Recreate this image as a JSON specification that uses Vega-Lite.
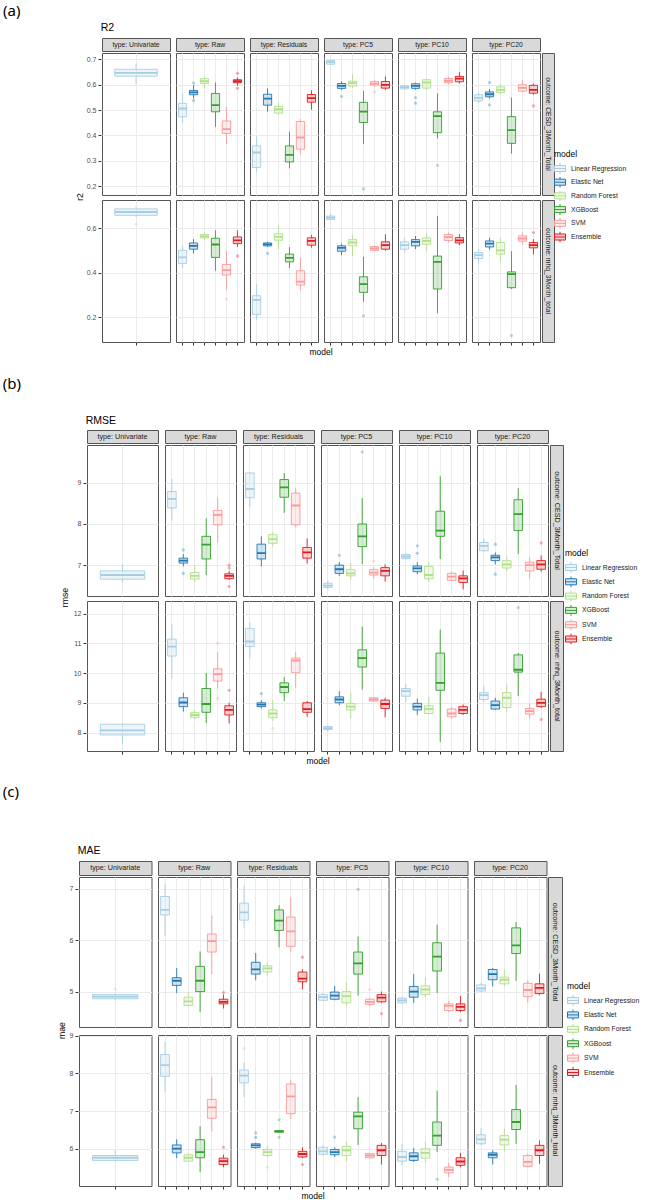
{
  "$schema": "https://vega.github.io/schema/vega-lite/v6.json",
  "background": "white",
  "padding": {"left": 2, "top": 4, "right": 0, "bottom": 0},
  "datasets": {
    "strips": [
      {"t": "U", "lab": "type: Univariate"}, {"t": "Raw", "lab": "type: Raw"}, {"t": "Res", "lab": "type: Residuals"},
      {"t": "PC5", "lab": "type: PC5"}, {"t": "PC10", "lab": "type: PC10"}, {"t": "PC20", "lab": "type: PC20"}
    ],
    "a1": [
      {"t":"U","m":"LR","lo":0.6,"q1":0.633,"md":0.646,"q3":0.66,"hi":0.683},
      {"t":"Raw","m":"LR","lo":0.448,"q1":0.473,"md":0.506,"q3":0.526,"hi":0.566},
      {"t":"Raw","m":"EN","lo":0.545,"q1":0.56,"md":0.569,"q3":0.577,"hi":0.598},
      {"t":"Raw","m":"RF","lo":0.585,"q1":0.604,"md":0.613,"q3":0.623,"hi":0.632},
      {"t":"Raw","m":"XGB","lo":0.434,"q1":0.493,"md":0.519,"q3":0.565,"hi":0.608},
      {"t":"Raw","m":"SVM","lo":0.366,"q1":0.408,"md":0.425,"q3":0.457,"hi":0.513},
      {"t":"Raw","m":"Ens","lo":0.595,"q1":0.607,"md":0.613,"q3":0.619,"hi":0.628},
      {"t":"Res","m":"LR","lo":0.255,"q1":0.274,"md":0.333,"q3":0.359,"hi":0.396},
      {"t":"Res","m":"EN","lo":0.494,"q1":0.519,"md":0.545,"q3":0.562,"hi":0.585},
      {"t":"Res","m":"RF","lo":0.48,"q1":0.488,"md":0.503,"q3":0.514,"hi":0.53},
      {"t":"Res","m":"XGB","lo":0.271,"q1":0.296,"md":0.324,"q3":0.359,"hi":0.415},
      {"t":"Res","m":"SVM","lo":0.326,"q1":0.346,"md":0.392,"q3":0.455,"hi":0.464},
      {"t":"Res","m":"Ens","lo":0.501,"q1":0.531,"md":0.547,"q3":0.561,"hi":0.577},
      {"t":"PC5","m":"LR","lo":0.677,"q1":0.68,"md":0.688,"q3":0.695,"hi":0.697},
      {"t":"PC5","m":"EN","lo":0.579,"q1":0.585,"md":0.595,"q3":0.604,"hi":0.613},
      {"t":"PC5","m":"RF","lo":0.587,"q1":0.594,"md":0.606,"q3":0.613,"hi":0.64},
      {"t":"PC5","m":"XGB","lo":0.366,"q1":0.451,"md":0.494,"q3":0.53,"hi":0.575},
      {"t":"PC5","m":"SVM","lo":0.592,"q1":0.598,"md":0.604,"q3":0.612,"hi":0.619},
      {"t":"PC5","m":"Ens","lo":0.579,"q1":0.586,"md":0.599,"q3":0.612,"hi":0.632},
      {"t":"PC10","m":"LR","lo":0.58,"q1":0.583,"md":0.59,"q3":0.595,"hi":0.598},
      {"t":"PC10","m":"EN","lo":0.58,"q1":0.585,"md":0.595,"q3":0.603,"hi":0.608},
      {"t":"PC10","m":"RF","lo":0.579,"q1":0.586,"md":0.608,"q3":0.619,"hi":0.624},
      {"t":"PC10","m":"XGB","lo":0.388,"q1":0.411,"md":0.476,"q3":0.493,"hi":0.566},
      {"t":"PC10","m":"SVM","lo":0.6,"q1":0.607,"md":0.615,"q3":0.624,"hi":0.63},
      {"t":"PC10","m":"Ens","lo":0.604,"q1":0.611,"md":0.623,"q3":0.632,"hi":0.65},
      {"t":"PC20","m":"LR","lo":0.527,"q1":0.536,"md":0.548,"q3":0.56,"hi":0.569},
      {"t":"PC20","m":"EN","lo":0.545,"q1":0.552,"md":0.562,"q3":0.571,"hi":0.582},
      {"t":"PC20","m":"RF","lo":0.562,"q1":0.569,"md":0.579,"q3":0.591,"hi":0.604},
      {"t":"PC20","m":"XGB","lo":0.329,"q1":0.369,"md":0.421,"q3":0.474,"hi":0.549},
      {"t":"PC20","m":"SVM","lo":0.569,"q1":0.574,"md":0.587,"q3":0.599,"hi":0.617},
      {"t":"PC20","m":"Ens","lo":0.56,"q1":0.566,"md":0.579,"q3":0.597,"hi":0.604},
      {"t":"Raw","m":"EN","v":0.606},{"t":"Raw","m":"EN","v":0.537},{"t":"Raw","m":"Ens","v":0.644},{"t":"Raw","m":"Ens","v":0.585},
      {"t":"PC5","m":"EN","v":0.553},{"t":"PC5","m":"XGB","v":0.19},{"t":"PC5","m":"SVM","v":0.571},
      {"t":"PC10","m":"EN","v":0.549},{"t":"PC10","m":"EN","v":0.527},{"t":"PC10","m":"XGB","v":0.283},
      {"t":"PC20","m":"EN","v":0.608},{"t":"PC20","m":"EN","v":0.52},{"t":"PC20","m":"Ens","v":0.516}
    ],
    "a2": [
      {"t":"U","m":"LR","lo":0.65,"q1":0.658,"md":0.673,"q3":0.687,"hi":0.698},
      {"t":"Raw","m":"LR","lo":0.422,"q1":0.442,"md":0.469,"q3":0.501,"hi":0.524},
      {"t":"Raw","m":"EN","lo":0.487,"q1":0.506,"md":0.521,"q3":0.534,"hi":0.551},
      {"t":"Raw","m":"RF","lo":0.549,"q1":0.557,"md":0.564,"q3":0.572,"hi":0.58},
      {"t":"Raw","m":"XGB","lo":0.409,"q1":0.469,"md":0.527,"q3":0.555,"hi":0.591},
      {"t":"Raw","m":"SVM","lo":0.322,"q1":0.39,"md":0.412,"q3":0.437,"hi":0.501},
      {"t":"Raw","m":"Ens","lo":0.516,"q1":0.531,"md":0.546,"q3":0.561,"hi":0.591},
      {"t":"Res","m":"LR","lo":0.188,"q1":0.213,"md":0.278,"q3":0.297,"hi":0.348},
      {"t":"Res","m":"EN","lo":0.516,"q1":0.521,"md":0.528,"q3":0.534,"hi":0.539},
      {"t":"Res","m":"RF","lo":0.506,"q1":0.546,"md":0.561,"q3":0.575,"hi":0.613},
      {"t":"Res","m":"XGB","lo":0.422,"q1":0.449,"md":0.467,"q3":0.484,"hi":0.515},
      {"t":"Res","m":"SVM","lo":0.322,"q1":0.345,"md":0.36,"q3":0.409,"hi":0.467},
      {"t":"Res","m":"Ens","lo":0.513,"q1":0.524,"md":0.543,"q3":0.557,"hi":0.57},
      {"t":"PC5","m":"LR","lo":0.636,"q1":0.64,"md":0.648,"q3":0.655,"hi":0.666},
      {"t":"PC5","m":"EN","lo":0.479,"q1":0.497,"md":0.512,"q3":0.521,"hi":0.531},
      {"t":"PC5","m":"RF","lo":0.475,"q1":0.521,"md":0.536,"q3":0.549,"hi":0.573},
      {"t":"PC5","m":"XGB","lo":0.27,"q1":0.312,"md":0.349,"q3":0.382,"hi":0.472},
      {"t":"PC5","m":"SVM","lo":0.497,"q1":0.501,"md":0.509,"q3":0.518,"hi":0.522},
      {"t":"PC5","m":"Ens","lo":0.499,"q1":0.506,"md":0.524,"q3":0.539,"hi":0.573},
      {"t":"PC10","m":"LR","lo":0.491,"q1":0.506,"md":0.524,"q3":0.539,"hi":0.557},
      {"t":"PC10","m":"EN","lo":0.506,"q1":0.521,"md":0.539,"q3":0.549,"hi":0.566},
      {"t":"PC10","m":"RF","lo":0.497,"q1":0.528,"md":0.543,"q3":0.557,"hi":0.579},
      {"t":"PC10","m":"XGB","lo":0.218,"q1":0.327,"md":0.449,"q3":0.475,"hi":0.655},
      {"t":"PC10","m":"SVM","lo":0.536,"q1":0.545,"md":0.56,"q3":0.572,"hi":0.581},
      {"t":"PC10","m":"Ens","lo":0.524,"q1":0.534,"md":0.546,"q3":0.558,"hi":0.573},
      {"t":"PC20","m":"LR","lo":0.442,"q1":0.464,"md":0.479,"q3":0.491,"hi":0.506},
      {"t":"PC20","m":"EN","lo":0.504,"q1":0.516,"md":0.531,"q3":0.543,"hi":0.557},
      {"t":"PC20","m":"RF","lo":0.449,"q1":0.484,"md":0.501,"q3":0.536,"hi":0.557},
      {"t":"PC20","m":"XGB","lo":0.327,"q1":0.333,"md":0.394,"q3":0.404,"hi":0.497},
      {"t":"PC20","m":"SVM","lo":0.527,"q1":0.542,"md":0.554,"q3":0.566,"hi":0.581},
      {"t":"PC20","m":"Ens","lo":0.482,"q1":0.512,"md":0.524,"q3":0.536,"hi":0.551},
      {"t":"U","m":"LR","v":0.618},{"t":"Raw","m":"SVM","v":0.282},{"t":"Raw","m":"Ens","v":0.475},
      {"t":"Res","m":"EN","v":0.487},{"t":"PC5","m":"XGB","v":0.207},{"t":"PC20","m":"XGB","v":0.118},{"t":"PC20","m":"Ens","v":0.581}
    ],
    "b1": [
      {"t":"U","m":"LR","lo":6.58,"q1":6.66,"md":6.76,"q3":6.86,"hi":7.02},
      {"t":"Raw","m":"LR","lo":8.08,"q1":8.39,"md":8.61,"q3":8.79,"hi":9.1},
      {"t":"Raw","m":"EN","lo":6.97,"q1":7.05,"md":7.11,"q3":7.17,"hi":7.27},
      {"t":"Raw","m":"RF","lo":6.58,"q1":6.66,"md":6.74,"q3":6.82,"hi":7.0},
      {"t":"Raw","m":"XGB","lo":6.76,"q1":7.15,"md":7.5,"q3":7.7,"hi":8.14},
      {"t":"Raw","m":"SVM","lo":7.55,"q1":7.98,"md":8.22,"q3":8.33,"hi":8.63},
      {"t":"Raw","m":"Ens","lo":6.64,"q1":6.67,"md":6.74,"q3":6.79,"hi":6.86},
      {"t":"Res","m":"LR","lo":8.41,"q1":8.64,"md":8.85,"q3":9.24,"hi":9.26},
      {"t":"Res","m":"EN","lo":6.97,"q1":7.15,"md":7.29,"q3":7.51,"hi":7.7},
      {"t":"Res","m":"RF","lo":7.45,"q1":7.53,"md":7.63,"q3":7.74,"hi":7.8},
      {"t":"Res","m":"XGB","lo":8.27,"q1":8.65,"md":8.89,"q3":9.08,"hi":9.24},
      {"t":"Res","m":"SVM","lo":7.92,"q1":7.98,"md":8.45,"q3":8.75,"hi":8.87},
      {"t":"Res","m":"Ens","lo":7.04,"q1":7.17,"md":7.31,"q3":7.43,"hi":7.65},
      {"t":"PC5","m":"LR","lo":6.42,"q1":6.46,"md":6.5,"q3":6.56,"hi":6.62},
      {"t":"PC5","m":"EN","lo":6.74,"q1":6.8,"md":6.9,"q3":7.0,"hi":7.07},
      {"t":"PC5","m":"RF","lo":6.66,"q1":6.74,"md":6.8,"q3":6.89,"hi":7.05},
      {"t":"PC5","m":"XGB","lo":7.02,"q1":7.45,"md":7.7,"q3":8.0,"hi":8.63},
      {"t":"PC5","m":"SVM","lo":6.67,"q1":6.76,"md":6.82,"q3":6.89,"hi":6.95},
      {"t":"PC5","m":"Ens","lo":6.6,"q1":6.74,"md":6.86,"q3":6.94,"hi":7.02},
      {"t":"PC10","m":"LR","lo":7.14,"q1":7.16,"md":7.21,"q3":7.26,"hi":7.28},
      {"t":"PC10","m":"EN","lo":6.78,"q1":6.84,"md":6.92,"q3":6.98,"hi":7.07},
      {"t":"PC10","m":"RF","lo":6.59,"q1":6.67,"md":6.76,"q3":6.97,"hi":7.07},
      {"t":"PC10","m":"XGB","lo":7.15,"q1":7.7,"md":7.84,"q3":8.31,"hi":9.16},
      {"t":"PC10","m":"SVM","lo":6.6,"q1":6.63,"md":6.72,"q3":6.8,"hi":6.85},
      {"t":"PC10","m":"Ens","lo":6.41,"q1":6.58,"md":6.68,"q3":6.74,"hi":6.87},
      {"t":"PC20","m":"LR","lo":7.31,"q1":7.35,"md":7.47,"q3":7.55,"hi":7.65},
      {"t":"PC20","m":"EN","lo":7.02,"q1":7.11,"md":7.19,"q3":7.24,"hi":7.31},
      {"t":"PC20","m":"RF","lo":6.86,"q1":6.93,"md":7.02,"q3":7.11,"hi":7.21},
      {"t":"PC20","m":"XGB","lo":7.27,"q1":7.84,"md":8.24,"q3":8.59,"hi":8.87},
      {"t":"PC20","m":"SVM","lo":6.68,"q1":6.86,"md":7.0,"q3":7.07,"hi":7.19},
      {"t":"PC20","m":"Ens","lo":6.84,"q1":6.9,"md":7.02,"q3":7.11,"hi":7.24},
      {"t":"Raw","m":"EN","v":7.37},{"t":"Raw","m":"EN","v":6.8},{"t":"Raw","m":"Ens","v":7.0},{"t":"Raw","m":"Ens","v":6.93},{"t":"Raw","m":"Ens","v":6.48},
      {"t":"PC5","m":"EN","v":7.24},{"t":"PC5","m":"XGB","v":9.75},{"t":"PC5","m":"SVM","v":7.1},
      {"t":"PC10","m":"EN","v":7.47},{"t":"PC10","m":"EN","v":7.29},
      {"t":"PC20","m":"EN","v":7.51},{"t":"PC20","m":"EN","v":6.78},{"t":"PC20","m":"Ens","v":7.54}
    ],
    "b2": [
      {"t":"U","m":"LR","lo":7.61,"q1":7.92,"md":8.07,"q3":8.28,"hi":8.33},
      {"t":"Raw","m":"LR","lo":9.81,"q1":10.57,"md":10.89,"q3":11.14,"hi":11.64},
      {"t":"Raw","m":"EN","lo":8.7,"q1":8.87,"md":9.01,"q3":9.17,"hi":9.34},
      {"t":"Raw","m":"RF","lo":8.44,"q1":8.51,"md":8.59,"q3":8.67,"hi":8.76},
      {"t":"Raw","m":"XGB","lo":8.31,"q1":8.68,"md":8.96,"q3":9.48,"hi":10.0},
      {"t":"Raw","m":"SVM","lo":9.48,"q1":9.73,"md":9.96,"q3":10.14,"hi":10.7},
      {"t":"Raw","m":"Ens","lo":8.31,"q1":8.59,"md":8.76,"q3":8.9,"hi":9.0},
      {"t":"Res","m":"LR","lo":10.48,"q1":10.89,"md":11.06,"q3":11.5,"hi":11.7},
      {"t":"Res","m":"EN","lo":8.81,"q1":8.87,"md":8.94,"q3":9.0,"hi":9.09},
      {"t":"Res","m":"RF","lo":8.39,"q1":8.5,"md":8.64,"q3":8.76,"hi":9.1},
      {"t":"Res","m":"XGB","lo":9.06,"q1":9.34,"md":9.53,"q3":9.67,"hi":9.87},
      {"t":"Res","m":"SVM","lo":9.5,"q1":10.01,"md":10.42,"q3":10.5,"hi":10.7},
      {"t":"Res","m":"Ens","lo":8.53,"q1":8.68,"md":8.79,"q3":9.0,"hi":9.06},
      {"t":"PC5","m":"LR","lo":8.02,"q1":8.1,"md":8.15,"q3":8.2,"hi":8.24},
      {"t":"PC5","m":"EN","lo":8.92,"q1":9.0,"md":9.11,"q3":9.2,"hi":9.39},
      {"t":"PC5","m":"RF","lo":8.48,"q1":8.76,"md":8.87,"q3":8.98,"hi":9.34},
      {"t":"PC5","m":"XGB","lo":9.44,"q1":10.2,"md":10.5,"q3":10.78,"hi":11.56},
      {"t":"PC5","m":"SVM","lo":9.04,"q1":9.06,"md":9.11,"q3":9.17,"hi":9.2},
      {"t":"PC5","m":"Ens","lo":8.51,"q1":8.81,"md":8.96,"q3":9.09,"hi":9.17},
      {"t":"PC10","m":"LR","lo":9.01,"q1":9.22,"md":9.39,"q3":9.48,"hi":9.64},
      {"t":"PC10","m":"EN","lo":8.59,"q1":8.76,"md":8.87,"q3":8.98,"hi":9.14},
      {"t":"PC10","m":"RF","lo":8.61,"q1":8.64,"md":8.79,"q3":8.9,"hi":9.2},
      {"t":"PC10","m":"XGB","lo":7.68,"q1":9.42,"md":9.67,"q3":10.67,"hi":11.46},
      {"t":"PC10","m":"SVM","lo":8.46,"q1":8.53,"md":8.64,"q3":8.79,"hi":8.87},
      {"t":"PC10","m":"Ens","lo":8.59,"q1":8.64,"md":8.76,"q3":8.87,"hi":8.94},
      {"t":"PC20","m":"LR","lo":9.03,"q1":9.11,"md":9.26,"q3":9.34,"hi":9.57},
      {"t":"PC20","m":"EN","lo":8.76,"q1":8.79,"md":8.92,"q3":9.06,"hi":9.17},
      {"t":"PC20","m":"RF","lo":8.7,"q1":8.84,"md":9.17,"q3":9.34,"hi":9.61},
      {"t":"PC20","m":"XGB","lo":9.23,"q1":10.03,"md":10.11,"q3":10.61,"hi":10.67},
      {"t":"PC20","m":"SVM","lo":8.46,"q1":8.62,"md":8.72,"q3":8.81,"hi":8.98},
      {"t":"PC20","m":"Ens","lo":8.83,"q1":8.87,"md":9.0,"q3":9.12,"hi":9.37},
      {"t":"Raw","m":"SVM","v":11.01},{"t":"Raw","m":"SVM","v":9.14},{"t":"Raw","m":"Ens","v":9.42},
      {"t":"Res","m":"EN","v":9.31},{"t":"Res","m":"RF","v":8.14},
      {"t":"PC20","m":"XGB","v":12.2},{"t":"PC20","m":"Ens","v":8.44}
    ],
    "c1": [
      {"t":"U","m":"LR","lo":4.83,"q1":4.86,"md":4.9,"q3":4.94,"hi":4.97},
      {"t":"Raw","m":"LR","lo":6.08,"q1":6.49,"md":6.59,"q3":6.85,"hi":7.1},
      {"t":"Raw","m":"EN","lo":4.97,"q1":5.12,"md":5.21,"q3":5.27,"hi":5.46},
      {"t":"Raw","m":"RF","lo":4.71,"q1":4.73,"md":4.81,"q3":4.89,"hi":5.0},
      {"t":"Raw","m":"XGB","lo":4.6,"q1":5.0,"md":5.21,"q3":5.49,"hi":5.78},
      {"t":"Raw","m":"SVM","lo":5.34,"q1":5.77,"md":5.98,"q3":6.12,"hi":6.48},
      {"t":"Raw","m":"Ens","lo":4.67,"q1":4.76,"md":4.8,"q3":4.85,"hi":4.94},
      {"t":"Res","m":"LR","lo":6.24,"q1":6.39,"md":6.54,"q3":6.72,"hi":7.06},
      {"t":"Res","m":"EN","lo":5.22,"q1":5.34,"md":5.43,"q3":5.57,"hi":5.75},
      {"t":"Res","m":"RF","lo":5.32,"q1":5.38,"md":5.45,"q3":5.5,"hi":5.59},
      {"t":"Res","m":"XGB","lo":5.86,"q1":6.19,"md":6.38,"q3":6.59,"hi":6.68},
      {"t":"Res","m":"SVM","lo":5.77,"q1":5.88,"md":6.17,"q3":6.45,"hi":6.83},
      {"t":"Res","m":"Ens","lo":5.05,"q1":5.19,"md":5.25,"q3":5.38,"hi":5.43},
      {"t":"PC5","m":"LR","lo":4.82,"q1":4.83,"md":4.89,"q3":4.94,"hi":4.97},
      {"t":"PC5","m":"EN","lo":4.83,"q1":4.85,"md":4.92,"q3":4.99,"hi":5.11},
      {"t":"PC5","m":"RF","lo":4.73,"q1":4.78,"md":4.91,"q3":5.0,"hi":5.18},
      {"t":"PC5","m":"XGB","lo":4.92,"q1":5.34,"md":5.55,"q3":5.77,"hi":6.07},
      {"t":"PC5","m":"SVM","lo":4.72,"q1":4.75,"md":4.8,"q3":4.85,"hi":4.88},
      {"t":"PC5","m":"Ens","lo":4.78,"q1":4.8,"md":4.88,"q3":4.94,"hi":5.0},
      {"t":"PC10","m":"LR","lo":4.76,"q1":4.78,"md":4.83,"q3":4.87,"hi":4.9},
      {"t":"PC10","m":"EN","lo":4.78,"q1":4.89,"md":5.0,"q3":5.1,"hi":5.34},
      {"t":"PC10","m":"RF","lo":4.88,"q1":4.94,"md":5.04,"q3":5.11,"hi":5.28},
      {"t":"PC10","m":"XGB","lo":4.97,"q1":5.4,"md":5.68,"q3":5.95,"hi":6.3},
      {"t":"PC10","m":"SVM","lo":4.6,"q1":4.63,"md":4.72,"q3":4.76,"hi":4.82},
      {"t":"PC10","m":"Ens","lo":4.6,"q1":4.63,"md":4.7,"q3":4.76,"hi":4.91},
      {"t":"PC20","m":"LR","lo":5.0,"q1":5.01,"md":5.06,"q3":5.13,"hi":5.17},
      {"t":"PC20","m":"EN","lo":5.1,"q1":5.23,"md":5.34,"q3":5.43,"hi":5.46},
      {"t":"PC20","m":"RF","lo":5.1,"q1":5.15,"md":5.23,"q3":5.28,"hi":5.43},
      {"t":"PC20","m":"XGB","lo":5.21,"q1":5.74,"md":5.9,"q3":6.24,"hi":6.35},
      {"t":"PC20","m":"SVM","lo":4.78,"q1":4.9,"md":5.03,"q3":5.16,"hi":5.22},
      {"t":"PC20","m":"Ens","lo":4.93,"q1":4.96,"md":5.07,"q3":5.15,"hi":5.35},
      {"t":"U","m":"LR","v":5.05},{"t":"Raw","m":"Ens","v":4.98},{"t":"Res","m":"Ens","v":5.67},
      {"t":"PC5","m":"XGB","v":6.99},{"t":"PC5","m":"SVM","v":5.04},{"t":"PC5","m":"Ens","v":4.57},
      {"t":"PC10","m":"Ens","v":4.44}
    ],
    "c2": [
      {"t":"U","m":"LR","lo":5.65,"q1":5.69,"md":5.76,"q3":5.82,"hi":5.96},
      {"t":"Raw","m":"LR","lo":7.5,"q1":7.92,"md":8.22,"q3":8.5,"hi":8.84},
      {"t":"Raw","m":"EN","lo":5.75,"q1":5.89,"md":6.0,"q3":6.1,"hi":6.25},
      {"t":"Raw","m":"RF","lo":5.65,"q1":5.67,"md":5.76,"q3":5.84,"hi":5.88},
      {"t":"Raw","m":"XGB","lo":5.38,"q1":5.76,"md":5.91,"q3":6.24,"hi":6.6},
      {"t":"Raw","m":"SVM","lo":6.46,"q1":6.81,"md":7.1,"q3":7.31,"hi":7.9},
      {"t":"Raw","m":"Ens","lo":5.51,"q1":5.58,"md":5.67,"q3":5.75,"hi":5.84},
      {"t":"Res","m":"LR","lo":7.37,"q1":7.75,"md":7.94,"q3":8.09,"hi":8.29},
      {"t":"Res","m":"EN","lo":6.0,"q1":6.03,"md":6.09,"q3":6.13,"hi":6.16},
      {"t":"Res","m":"RF","lo":5.78,"q1":5.82,"md":5.91,"q3":5.98,"hi":6.09},
      {"t":"Res","m":"XGB","lo":6.42,"q1":6.44,"md":6.46,"q3":6.48,"hi":6.5},
      {"t":"Res","m":"SVM","lo":6.79,"q1":6.93,"md":7.39,"q3":7.72,"hi":7.83},
      {"t":"Res","m":"Ens","lo":5.75,"q1":5.78,"md":5.86,"q3":5.93,"hi":6.04},
      {"t":"PC5","m":"LR","lo":5.82,"q1":5.85,"md":5.93,"q3":6.04,"hi":6.09},
      {"t":"PC5","m":"EN","lo":5.78,"q1":5.84,"md":5.91,"q3":5.98,"hi":6.04},
      {"t":"PC5","m":"RF","lo":5.67,"q1":5.82,"md":5.96,"q3":6.06,"hi":6.19},
      {"t":"PC5","m":"XGB","lo":6.1,"q1":6.53,"md":6.86,"q3":6.97,"hi":7.37},
      {"t":"PC5","m":"SVM","lo":5.74,"q1":5.76,"md":5.82,"q3":5.87,"hi":5.89},
      {"t":"PC5","m":"Ens","lo":5.58,"q1":5.82,"md":5.96,"q3":6.09,"hi":6.15},
      {"t":"PC10","m":"LR","lo":5.56,"q1":5.67,"md":5.78,"q3":5.93,"hi":6.13},
      {"t":"PC10","m":"EN","lo":5.65,"q1":5.69,"md":5.8,"q3":5.89,"hi":6.02},
      {"t":"PC10","m":"RF","lo":5.63,"q1":5.75,"md":5.89,"q3":6.0,"hi":6.18},
      {"t":"PC10","m":"XGB","lo":5.91,"q1":6.09,"md":6.35,"q3":6.71,"hi":7.54},
      {"t":"PC10","m":"SVM","lo":5.25,"q1":5.36,"md":5.44,"q3":5.51,"hi":5.63},
      {"t":"PC10","m":"Ens","lo":5.51,"q1":5.56,"md":5.66,"q3":5.76,"hi":5.89},
      {"t":"PC20","m":"LR","lo":6.09,"q1":6.13,"md":6.25,"q3":6.37,"hi":6.55},
      {"t":"PC20","m":"EN","lo":5.58,"q1":5.76,"md":5.84,"q3":5.89,"hi":5.96},
      {"t":"PC20","m":"RF","lo":5.93,"q1":6.1,"md":6.24,"q3":6.35,"hi":6.53},
      {"t":"PC20","m":"XGB","lo":6.13,"q1":6.51,"md":6.71,"q3":7.04,"hi":7.69},
      {"t":"PC20","m":"SVM","lo":5.51,"q1":5.53,"md":5.65,"q3":5.82,"hi":5.87},
      {"t":"PC20","m":"Ens","lo":5.6,"q1":5.82,"md":5.96,"q3":6.09,"hi":6.22},
      {"t":"Raw","m":"Ens","v":6.04},{"t":"Res","m":"LR","v":8.66},{"t":"Res","m":"EN","v":6.42},{"t":"Res","m":"EN","v":6.3},
      {"t":"Res","m":"RF","v":5.51},{"t":"Res","m":"XGB","v":6.77},{"t":"Res","m":"XGB","v":6.31},{"t":"Res","m":"Ens","v":5.58},
      {"t":"PC5","m":"EN","v":6.31},{"t":"PC10","m":"XGB","v":5.19}
    ]
  },
  "config": {
    "font": "Liberation Sans",
    "view": {"stroke": "#555555", "strokeWidth": 1},
    "axis": {"gridColor": "#ebebeb", "gridWidth": 1, "domain": false, "tickColor": "#333333", "tickSize": 3, "labelColor": "#4d4d4d", "labelFontSize": 7, "labelPadding": 2, "labelOverlap": false, "titlePadding": 2, "titleFontSize": 8.7, "titleFontWeight": "normal"},
    "title": {"fontWeight": "normal", "color": "#000000"},
    "header": {"titleFontSize": 8.5, "titleFontWeight": "normal", "titleColor": "#000000", "titlePadding": -8, "labelPadding": 0},
    "legend": {"orient": "none", "titleFontSize": 8.5, "titleFontWeight": "normal", "titleColor": "#000000", "labelFontSize": 6.8, "labelColor": "#1a1a1a", "symbolType": "M-1,-0.55H1V0.55H-1Z M-1,0H1 M0,-0.55V-1 M0,0.55V1", "symbolSize": 120, "symbolStrokeWidth": 1, "clipHeight": 11, "rowPadding": 2.7, "labelOffset": 5, "titlePadding": 5}
  },
  "resolve": {"legend": {"color": "independent"}, "scale": {"color": "independent"}},
  "spacing": 19,
  "vconcat": [
    {
      "title": {"text": "(a)", "anchor": "start", "font": "Noto Sans", "fontSize": 15, "dx": -47, "offset": 4},
      "spacing": 0,
      "hconcat": [
        {"width": 24, "height": 1, "data": {"values": [{}]}, "mark": {"type": "text"}, "encoding": {}, "view": {"stroke": null}},
        {
        "title": {"text": "R2", "anchor": "start", "fontSize": 10.5, "dx": 26.7, "offset": 4},
        "vconcat": [{
          "title": {"text": "r2", "orient": "left", "anchor": "middle", "fontSize": 8.7, "offset": -10.7},
          "spacing": 3,
          "vconcat": [
            {"spacing": 0, "vconcat": [
              {"data": {"name": "strips"}, "facet": {"column": {"field": "t", "type": "nominal", "sort": ["U","Raw","Res","PC5","PC10","PC20"], "header": null}}, "spacing": 4,
               "spec": {"width": 68, "height": 13, "view": {"fill": "#d9d9d9", "stroke": "#555555"},
                 "mark": {"type": "text", "fontSize": 6.8, "color": "#1a1a1a"},
                 "encoding": {"text": {"field": "lab"}, "y": {"datum": 0.5, "type": "quantitative", "scale": {"domain": [0, 1]}, "axis": {"title": " ", "titleOpacity": 0, "labels": false, "ticks": false, "grid": false, "minExtent": 16, "maxExtent": 16}}}}},
              {"spacing": 0, "hconcat": [
                {"data": {"name": "a1"}, "facet": {"column": {"field": "t", "type": "nominal", "sort": ["U","Raw","Res","PC5","PC10","PC20"], "header": null}}, "spacing": 4,
                 "resolve": {"scale": {"x": "independent"}},
                 "spec": {"width": 68, "height": 142,
                   "encoding": {
                     "x": {"field": "m", "type": "nominal", "sort": ["LR","EN","RF","XGB","SVM","Ens"], "scale": {"paddingInner": 0.25, "paddingOuter": 0.225}, "axis": {"title": null, "labels": false, "ticks": false, "grid": true}},
                     "color": {"field": "m", "type": "nominal", "scale": {"domain": ["LR","EN","RF","XGB","SVM","Ens"], "range": ["#a6cee3","#1f78b4","#b2df8a","#33a02c","#fb9a99","#e31a1c"]},
                       "legend": {"title": "model", "legendX": 504, "legendY": 111.5, "encode": {"symbols": {"update": {"fillOpacity": {"value": 0.2}}}}, "labelExpr": "{'LR':'Linear Regression','EN':'Elastic Net','RF':'Random Forest','XGB':'XGBoost','SVM':'SVM','Ens':'Ensemble'}[datum.label]"}}
                   },
                   "layer": [
                     {"mark": {"type": "rule", "strokeWidth": 0.9}, "encoding": {"y": {"field": "lo", "type": "quantitative", "scale": {"domain": [0.166, 0.724], "nice": false, "zero": false},
                        "axis": {"title": " ", "titleOpacity": 0, "minExtent": 16, "maxExtent": 16, "values": [0.2,0.3,0.4,0.5,0.6,0.7], "tickCount": 6, "labelOverlap": false}}, "y2": {"field": "q1"}}},
                     {"mark": {"type": "rule", "strokeWidth": 0.9}, "encoding": {"y": {"field": "q3", "type": "quantitative", "axis": {"title": " ", "titleOpacity": 0, "minExtent": 16, "maxExtent": 16, "values": [0.2,0.3,0.4,0.5,0.6,0.7], "tickCount": 6, "labelOverlap": false}}, "y2": {"field": "hi"}}},
                     {"mark": {"type": "bar", "fillOpacity": 0.2}, "encoding": {"y": {"field": "q1", "type": "quantitative", "axis": {"title": " ", "titleOpacity": 0, "minExtent": 16, "maxExtent": 16, "values": [0.2,0.3,0.4,0.5,0.6,0.7], "tickCount": 6, "labelOverlap": false}}, "y2": {"field": "q3"}}},
                     {"mark": {"type": "bar", "filled": false, "strokeWidth": 0.9}, "encoding": {"y": {"field": "q1", "type": "quantitative", "axis": {"title": " ", "titleOpacity": 0, "minExtent": 16, "maxExtent": 16, "values": [0.2,0.3,0.4,0.5,0.6,0.7], "tickCount": 6, "labelOverlap": false}}, "y2": {"field": "q3"}}},
                     {"mark": {"type": "bar", "filled": false, "strokeWidth": 1.8}, "encoding": {"y": {"field": "md", "type": "quantitative", "axis": {"title": " ", "titleOpacity": 0, "minExtent": 16, "maxExtent": 16, "values": [0.2,0.3,0.4,0.5,0.6,0.7], "tickCount": 6, "labelOverlap": false}}, "y2": {"field": "md"}}},
                     {"mark": {"type": "point", "filled": true, "size": 10, "opacity": 0.35}, "encoding": {"y": {"field": "v", "type": "quantitative", "axis": {"title": " ", "titleOpacity": 0, "minExtent": 16, "maxExtent": 16, "values": [0.2,0.3,0.4,0.5,0.6,0.7], "tickCount": 6, "labelOverlap": false}}}}
                   ]}},
                {"data": {"values": [{"lab": "outcome: CESD_3Month_Total"}]}, "width": 12, "height": 142, "view": {"fill": "#d9d9d9", "stroke": "#555555"},
                 "mark": {"type": "text", "angle": 90, "fontSize": 6.8, "color": "#1a1a1a"}, "encoding": {"text": {"field": "lab"}}}
              ]}
            ]},
            {"spacing": 0, "hconcat": [
              {"data": {"name": "a2"}, "facet": {"column": {"field": "t", "type": "nominal", "sort": ["U","Raw","Res","PC5","PC10","PC20"], "header": {"labels": false, "title": "model", "titleOrient": "bottom", "labelOrient": "bottom"}}}, "spacing": 4,
               "resolve": {"scale": {"x": "independent"}},
               "spec": {"width": 68, "height": 142,
                 "encoding": {
                   "x": {"field": "m", "type": "nominal", "sort": ["LR","EN","RF","XGB","SVM","Ens"], "scale": {"paddingInner": 0.25, "paddingOuter": 0.225}, "axis": {"title": null, "labels": false, "ticks": true, "grid": true}},
                   "color": {"field": "m", "type": "nominal", "scale": {"domain": ["LR","EN","RF","XGB","SVM","Ens"], "range": ["#a6cee3","#1f78b4","#b2df8a","#33a02c","#fb9a99","#e31a1c"]},
                     "legend": {"title": "model", "legendX": 504, "legendY": 111.5, "encode": {"symbols": {"update": {"fillOpacity": {"value": 0.2}}}}, "labelExpr": "{'LR':'Linear Regression','EN':'Elastic Net','RF':'Random Forest','XGB':'XGBoost','SVM':'SVM','Ens':'Ensemble'}[datum.label]"}}
                 },
                 "layer": [
                   {"mark": {"type": "rule", "strokeWidth": 0.9}, "encoding": {"y": {"field": "lo", "type": "quantitative", "scale": {"domain": [0.089, 0.727], "nice": false, "zero": false},
                      "axis": {"title": " ", "titleOpacity": 0, "minExtent": 16, "maxExtent": 16, "values": [0.2,0.4,0.6], "labelOverlap": false}}, "y2": {"field": "q1"}}},
                   {"mark": {"type": "rule", "strokeWidth": 0.9}, "encoding": {"y": {"field": "q3", "type": "quantitative"}, "y2": {"field": "hi"}}},
                   {"mark": {"type": "bar", "fillOpacity": 0.2}, "encoding": {"y": {"field": "q1", "type": "quantitative"}, "y2": {"field": "q3"}}},
                   {"mark": {"type": "bar", "filled": false, "strokeWidth": 0.9}, "encoding": {"y": {"field": "q1", "type": "quantitative"}, "y2": {"field": "q3"}}},
                   {"mark": {"type": "bar", "filled": false, "strokeWidth": 1.8}, "encoding": {"y": {"field": "md", "type": "quantitative"}, "y2": {"field": "md"}}},
                   {"mark": {"type": "point", "filled": true, "size": 10, "opacity": 0.35}, "encoding": {"y": {"field": "v", "type": "quantitative"}}}
                 ]}},
              {"data": {"values": [{"lab": "outcome: mhq_3Month_total"}]}, "width": 12, "height": 142, "view": {"fill": "#d9d9d9", "stroke": "#555555"},
               "mark": {"type": "text", "angle": 90, "fontSize": 6.8, "color": "#1a1a1a"}, "encoding": {"text": {"field": "lab"}}}
            ]}
          ]
        }]
      }]
    },
    {
      "title": {"text": "(b)", "anchor": "start", "font": "Noto Sans", "fontSize": 15, "dx": -47.3, "offset": 24.5},
      "spacing": 0,
      "hconcat": [
        {"width": 9, "height": 1, "data": {"values": [{}]}, "mark": {"type": "text"}, "encoding": {}, "view": {"stroke": null}},
        {
        "title": {"text": "RMSE", "anchor": "start", "fontSize": 10.5, "dx": 26.7, "offset": 3},
        "vconcat": [{
          "title": {"text": "rmse", "orient": "left", "anchor": "middle", "fontSize": 8.7, "offset": -10.7},
          "spacing": 3,
          "vconcat": [
            {"spacing": 0, "vconcat": [
              {"data": {"name": "strips"}, "facet": {"column": {"field": "t", "type": "nominal", "sort": ["U","Raw","Res","PC5","PC10","PC20"], "header": null}}, "spacing": 5,
               "spec": {"width": 71, "height": 13, "view": {"fill": "#d9d9d9", "stroke": "#555555"},
                 "mark": {"type": "text", "fontSize": 7.2, "color": "#1a1a1a"},
                 "encoding": {"text": {"field": "lab"}, "y": {"datum": 0.5, "type": "quantitative", "scale": {"domain": [0, 1]}, "axis": {"title": " ", "titleOpacity": 0, "labels": false, "ticks": false, "grid": false, "minExtent": 16, "maxExtent": 16}}}}},
              {"spacing": 0, "hconcat": [
                {"data": {"name": "b1"}, "facet": {"column": {"field": "t", "type": "nominal", "sort": ["U","Raw","Res","PC5","PC10","PC20"], "header": null}}, "spacing": 5,
                 "resolve": {"scale": {"x": "independent"}},
                 "spec": {"width": 71, "height": 151,
                   "encoding": {
                     "x": {"field": "m", "type": "nominal", "sort": ["LR","EN","RF","XGB","SVM","Ens"], "scale": {"paddingInner": 0.25, "paddingOuter": 0.225}, "axis": {"title": null, "labels": false, "ticks": false, "grid": true}},
                     "color": {"field": "m", "type": "nominal", "scale": {"domain": ["LR","EN","RF","XGB","SVM","Ens"], "range": ["#a6cee3","#1f78b4","#b2df8a","#33a02c","#fb9a99","#e31a1c"]},
                       "legend": {"title": "model", "legendX": 515, "legendY": 118.5, "rowPadding": 3.3, "encode": {"symbols": {"update": {"fillOpacity": {"value": 0.2}}}}, "labelExpr": "{'LR':'Linear Regression','EN':'Elastic Net','RF':'Random Forest','XGB':'XGBoost','SVM':'SVM','Ens':'Ensemble'}[datum.label]"}}
                   },
                   "layer": [
                     {"mark": {"type": "rule", "strokeWidth": 0.9}, "encoding": {"y": {"field": "lo", "type": "quantitative", "scale": {"domain": [6.25, 9.92], "nice": false, "zero": false},
                        "axis": {"title": " ", "titleOpacity": 0, "minExtent": 16, "maxExtent": 16, "values": [7,8,9], "labelOverlap": false}}, "y2": {"field": "q1"}}},
                     {"mark": {"type": "rule", "strokeWidth": 0.9}, "encoding": {"y": {"field": "q3", "type": "quantitative"}, "y2": {"field": "hi"}}},
                     {"mark": {"type": "bar", "fillOpacity": 0.2}, "encoding": {"y": {"field": "q1", "type": "quantitative"}, "y2": {"field": "q3"}}},
                     {"mark": {"type": "bar", "filled": false, "strokeWidth": 0.9}, "encoding": {"y": {"field": "q1", "type": "quantitative"}, "y2": {"field": "q3"}}},
                     {"mark": {"type": "bar", "filled": false, "strokeWidth": 1.8}, "encoding": {"y": {"field": "md", "type": "quantitative"}, "y2": {"field": "md"}}},
                     {"mark": {"type": "point", "filled": true, "size": 10, "opacity": 0.35}, "encoding": {"y": {"field": "v", "type": "quantitative"}}}
                   ]}},
                {"data": {"values": [{"lab": "outcome: CESD_3Month_Total"}]}, "width": 13, "height": 151, "view": {"fill": "#d9d9d9", "stroke": "#555555"},
                 "mark": {"type": "text", "angle": 90, "fontSize": 7.2, "color": "#1a1a1a"}, "encoding": {"text": {"field": "lab"}}}
              ]}
            ]},
            {"spacing": 0, "hconcat": [
              {"data": {"name": "b2"}, "facet": {"column": {"field": "t", "type": "nominal", "sort": ["U","Raw","Res","PC5","PC10","PC20"], "header": {"labels": false, "title": "model", "titleOrient": "bottom", "labelOrient": "bottom"}}}, "spacing": 5,
               "resolve": {"scale": {"x": "independent"}},
               "spec": {"width": 71, "height": 150,
                 "encoding": {
                   "x": {"field": "m", "type": "nominal", "sort": ["LR","EN","RF","XGB","SVM","Ens"], "scale": {"paddingInner": 0.25, "paddingOuter": 0.225}, "axis": {"title": null, "labels": false, "ticks": true, "grid": true}},
                   "color": {"field": "m", "type": "nominal", "scale": {"domain": ["LR","EN","RF","XGB","SVM","Ens"], "range": ["#a6cee3","#1f78b4","#b2df8a","#33a02c","#fb9a99","#e31a1c"]},
                     "legend": {"title": "model", "legendX": 515, "legendY": 118.5, "rowPadding": 3.3, "encode": {"symbols": {"update": {"fillOpacity": {"value": 0.2}}}}, "labelExpr": "{'LR':'Linear Regression','EN':'Elastic Net','RF':'Random Forest','XGB':'XGBoost','SVM':'SVM','Ens':'Ensemble'}[datum.label]"}}
                 },
                 "layer": [
                   {"mark": {"type": "rule", "strokeWidth": 0.9}, "encoding": {"y": {"field": "lo", "type": "quantitative", "scale": {"domain": [7.38, 12.42], "nice": false, "zero": false},
                      "axis": {"title": " ", "titleOpacity": 0, "minExtent": 16, "maxExtent": 16, "values": [8,9,10,11,12], "tickCount": 5, "labelOverlap": false}}, "y2": {"field": "q1"}}},
                   {"mark": {"type": "rule", "strokeWidth": 0.9}, "encoding": {"y": {"field": "q3", "type": "quantitative", "axis": {"title": " ", "titleOpacity": 0, "minExtent": 16, "maxExtent": 16, "values": [8,9,10,11,12], "tickCount": 5, "labelOverlap": false}}, "y2": {"field": "hi"}}},
                   {"mark": {"type": "bar", "fillOpacity": 0.2}, "encoding": {"y": {"field": "q1", "type": "quantitative", "axis": {"title": " ", "titleOpacity": 0, "minExtent": 16, "maxExtent": 16, "values": [8,9,10,11,12], "tickCount": 5, "labelOverlap": false}}, "y2": {"field": "q3"}}},
                   {"mark": {"type": "bar", "filled": false, "strokeWidth": 0.9}, "encoding": {"y": {"field": "q1", "type": "quantitative", "axis": {"title": " ", "titleOpacity": 0, "minExtent": 16, "maxExtent": 16, "values": [8,9,10,11,12], "tickCount": 5, "labelOverlap": false}}, "y2": {"field": "q3"}}},
                   {"mark": {"type": "bar", "filled": false, "strokeWidth": 1.8}, "encoding": {"y": {"field": "md", "type": "quantitative", "axis": {"title": " ", "titleOpacity": 0, "minExtent": 16, "maxExtent": 16, "values": [8,9,10,11,12], "tickCount": 5, "labelOverlap": false}}, "y2": {"field": "md"}}},
                   {"mark": {"type": "point", "filled": true, "size": 10, "opacity": 0.35}, "encoding": {"y": {"field": "v", "type": "quantitative", "axis": {"title": " ", "titleOpacity": 0, "minExtent": 16, "maxExtent": 16, "values": [8,9,10,11,12], "tickCount": 5, "labelOverlap": false}}}}
                 ]}},
              {"data": {"values": [{"lab": "outcome: mhq_3Month_total"}]}, "width": 13, "height": 150, "view": {"fill": "#d9d9d9", "stroke": "#555555"},
               "mark": {"type": "text", "angle": 90, "fontSize": 7.2, "color": "#1a1a1a"}, "encoding": {"text": {"field": "lab"}}}
            ]}
          ]
        }]
      }]
    },
    {
      "title": {"text": "(c)", "anchor": "start", "font": "Noto Sans", "fontSize": 15, "dx": -47.3, "offset": 46},
      "spacing": 0,
      "hconcat": [
        {"width": 1, "height": 1, "data": {"values": [{}]}, "mark": {"type": "text"}, "encoding": {}, "view": {"stroke": null}},
        {
        "title": {"text": "MAE", "anchor": "start", "fontSize": 10.5, "dx": 26.7, "offset": 4},
        "vconcat": [{
          "title": {"text": "mae", "orient": "left", "anchor": "middle", "fontSize": 8.7, "offset": -15.7},
          "spacing": 3,
          "vconcat": [
            {"spacing": 0, "vconcat": [
              {"data": {"name": "strips"}, "facet": {"column": {"field": "t", "type": "nominal", "sort": ["U","Raw","Res","PC5","PC10","PC20"], "header": null}}, "spacing": 5,
               "spec": {"width": 72.5, "height": 14, "view": {"fill": "#d9d9d9", "stroke": "#555555"},
                 "mark": {"type": "text", "fontSize": 7.2, "color": "#1a1a1a"},
                 "encoding": {"text": {"field": "lab"}, "y": {"datum": 0.5, "type": "quantitative", "scale": {"domain": [0, 1]}, "axis": {"title": " ", "titleOpacity": 0, "labels": false, "ticks": false, "grid": false, "minExtent": 16, "maxExtent": 16}}}}},
              {"spacing": 0, "hconcat": [
                {"data": {"name": "c1"}, "facet": {"column": {"field": "t", "type": "nominal", "sort": ["U","Raw","Res","PC5","PC10","PC20"], "header": null}}, "spacing": 5,
                 "resolve": {"scale": {"x": "independent"}},
                 "spec": {"width": 72.5, "height": 150,
                   "encoding": {
                     "x": {"field": "m", "type": "nominal", "sort": ["LR","EN","RF","XGB","SVM","Ens"], "scale": {"paddingInner": 0.25, "paddingOuter": 0.225}, "axis": {"title": null, "labels": false, "ticks": false, "grid": true}},
                     "color": {"field": "m", "type": "nominal", "scale": {"domain": ["LR","EN","RF","XGB","SVM","Ens"], "range": ["#a6cee3","#1f78b4","#b2df8a","#33a02c","#fb9a99","#e31a1c"]},
                       "legend": {"title": "model", "legendX": 517, "legendY": 120.5, "rowPadding": 3.4, "encode": {"symbols": {"update": {"fillOpacity": {"value": 0.2}}}}, "labelExpr": "{'LR':'Linear Regression','EN':'Elastic Net','RF':'Random Forest','XGB':'XGBoost','SVM':'SVM','Ens':'Ensemble'}[datum.label]"}}
                   },
                   "layer": [
                     {"mark": {"type": "rule", "strokeWidth": 0.9}, "encoding": {"y": {"field": "lo", "type": "quantitative", "scale": {"domain": [4.31, 7.23], "nice": false, "zero": false},
                        "axis": {"title": " ", "titleOpacity": 0, "minExtent": 16, "maxExtent": 16, "values": [5,6,7], "labelOverlap": false}}, "y2": {"field": "q1"}}},
                     {"mark": {"type": "rule", "strokeWidth": 0.9}, "encoding": {"y": {"field": "q3", "type": "quantitative"}, "y2": {"field": "hi"}}},
                     {"mark": {"type": "bar", "fillOpacity": 0.2}, "encoding": {"y": {"field": "q1", "type": "quantitative"}, "y2": {"field": "q3"}}},
                     {"mark": {"type": "bar", "filled": false, "strokeWidth": 0.9}, "encoding": {"y": {"field": "q1", "type": "quantitative"}, "y2": {"field": "q3"}}},
                     {"mark": {"type": "bar", "filled": false, "strokeWidth": 1.8}, "encoding": {"y": {"field": "md", "type": "quantitative"}, "y2": {"field": "md"}}},
                     {"mark": {"type": "point", "filled": true, "size": 10, "opacity": 0.35}, "encoding": {"y": {"field": "v", "type": "quantitative"}}}
                   ]}},
                {"data": {"values": [{"lab": "outcome: CESD_3Month_Total"}]}, "width": 14, "height": 150, "view": {"fill": "#d9d9d9", "stroke": "#555555"},
                 "mark": {"type": "text", "angle": 90, "fontSize": 7.2, "color": "#1a1a1a"}, "encoding": {"text": {"field": "lab"}}}
              ]}
            ]},
            {"spacing": 0, "hconcat": [
              {"data": {"name": "c2"}, "facet": {"column": {"field": "t", "type": "nominal", "sort": ["U","Raw","Res","PC5","PC10","PC20"], "header": {"labels": false, "title": "model", "titleOrient": "bottom", "labelOrient": "bottom"}}}, "spacing": 5,
               "resolve": {"scale": {"x": "independent"}},
               "spec": {"width": 72.5, "height": 151,
                 "encoding": {
                   "x": {"field": "m", "type": "nominal", "sort": ["LR","EN","RF","XGB","SVM","Ens"], "scale": {"paddingInner": 0.25, "paddingOuter": 0.225}, "axis": {"title": null, "labels": false, "ticks": true, "grid": true}},
                   "color": {"field": "m", "type": "nominal", "scale": {"domain": ["LR","EN","RF","XGB","SVM","Ens"], "range": ["#a6cee3","#1f78b4","#b2df8a","#33a02c","#fb9a99","#e31a1c"]},
                     "legend": {"title": "model", "legendX": 517, "legendY": 120.5, "rowPadding": 3.4, "encode": {"symbols": {"update": {"fillOpacity": {"value": 0.2}}}}, "labelExpr": "{'LR':'Linear Regression','EN':'Elastic Net','RF':'Random Forest','XGB':'XGBoost','SVM':'SVM','Ens':'Ensemble'}[datum.label]"}}
                 },
                 "layer": [
                   {"mark": {"type": "rule", "strokeWidth": 0.9}, "encoding": {"y": {"field": "lo", "type": "quantitative", "scale": {"domain": [5.01, 9.02], "nice": false, "zero": false},
                      "axis": {"title": " ", "titleOpacity": 0, "minExtent": 16, "maxExtent": 16, "values": [6,7,8,9], "labelOverlap": false}}, "y2": {"field": "q1"}}},
                   {"mark": {"type": "rule", "strokeWidth": 0.9}, "encoding": {"y": {"field": "q3", "type": "quantitative"}, "y2": {"field": "hi"}}},
                   {"mark": {"type": "bar", "fillOpacity": 0.2}, "encoding": {"y": {"field": "q1", "type": "quantitative"}, "y2": {"field": "q3"}}},
                   {"mark": {"type": "bar", "filled": false, "strokeWidth": 0.9}, "encoding": {"y": {"field": "q1", "type": "quantitative"}, "y2": {"field": "q3"}}},
                   {"mark": {"type": "bar", "filled": false, "strokeWidth": 1.8}, "encoding": {"y": {"field": "md", "type": "quantitative"}, "y2": {"field": "md"}}},
                   {"mark": {"type": "point", "filled": true, "size": 10, "opacity": 0.35}, "encoding": {"y": {"field": "v", "type": "quantitative"}}}
                 ]}},
              {"data": {"values": [{"lab": "outcome: mhq_3Month_total"}]}, "width": 14, "height": 151, "view": {"fill": "#d9d9d9", "stroke": "#555555"},
               "mark": {"type": "text", "angle": 90, "fontSize": 7.2, "color": "#1a1a1a"}, "encoding": {"text": {"field": "lab"}}}
            ]}
          ]
        }]
      }]
    }
  ]
}
